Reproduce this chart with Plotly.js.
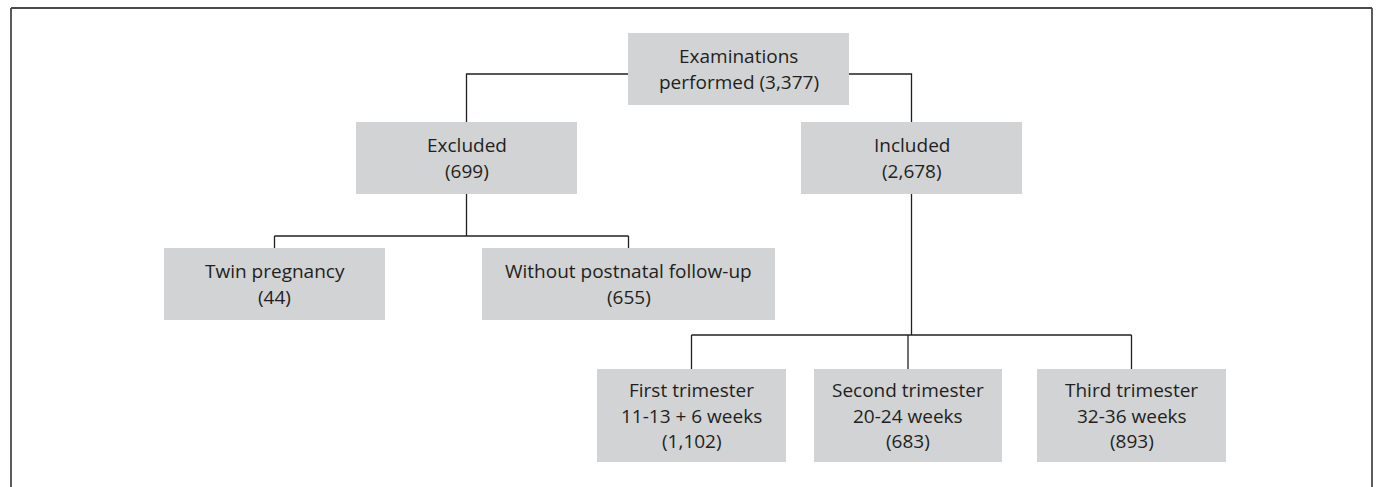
<!DOCTYPE html>
<html><head><meta charset="utf-8">
<script src="https://cdn.plot.ly/plotly-3.0.1.min.js"></script>
<style>html,body{margin:0;padding:0;background:#fff;overflow:hidden}</style>
</head><body><div id="chart" style="width:1378px;height:487px"></div>
<script>
// ---- data ----
const nodeIds = ["exams","excluded","included","twin","noFollow","first","second","third"];
const nodeLines = [
  ["Examinations","performed"],
  ["Excluded"],
  ["Included"],
  ["Twin pregnancy"],
  ["Without postnatal follow-up"],
  ["First trimester","11-13 + 6 weeks"],
  ["Second trimester","20-24 weeks"],
  ["Third trimester","32-36 weeks"]
];
const nodeCounts = [3377, 699, 2678, 44, 655, 1102, 683, 893];
const nodeParents = [null,"exams","exams","excluded","excluded","included","included","included"];

// ---- layout geometry (pixels in a 1378x487 frame) ----
const geom = {
  exams:    {x0:628, x1:849,  y0:33,  y1:105, inline:true},
  excluded: {x0:356, x1:577,  y0:122, y1:194},
  included: {x0:801, x1:1022, y0:122, y1:194},
  twin:     {x0:164, x1:385,  y0:248, y1:320},
  noFollow: {x0:482, x1:775,  y0:248, y1:320},
  first:    {x0:597, x1:786,  y0:369, y1:462},
  second:   {x0:814, x1:1002, y0:369, y1:462},
  third:    {x0:1037,x1:1226, y0:369, y1:462}
};
const connector = {
  exams:    {style:"side", y:74},
  excluded: {style:"bus",  y:236},
  included: {style:"bus",  y:335}
};
const LINE_H = 25.5;
const FONT = {family:"Open Sans, Noto Sans, sans-serif", size:19, color:"#231f20"};
const BOX_FILL = "#d1d3d4";
const LINE_COLOR = "#231f20";

function fmt(n){ return n.toLocaleString("en-US"); }

const shapes = [];
const annotations = [];
const cx = id => (geom[id].x0 + geom[id].x1) / 2;

// frame
const frame = {color:"#4a4a4a", width:1.8};
shapes.push({type:"line", xref:"x", yref:"y", x0:11, x1:1372, y0:8, y1:8, line:frame});
shapes.push({type:"line", xref:"x", yref:"y", x0:11, x1:11, y0:8, y1:490, line:frame});
shapes.push({type:"line", xref:"x", yref:"y", x0:1372, x1:1372, y0:8, y1:490, line:frame});

// connectors
const lineStyle = {color:LINE_COLOR, width:1.3};
Object.keys(connector).forEach(pid => {
  const kids = nodeIds.filter((id,i) => nodeParents[i] === pid);
  const c = connector[pid], p = geom[pid];
  if (c.style === "side") {
    kids.forEach(k => {
      const kx = cx(k);
      const edge = kx < cx(pid) ? p.x0 : p.x1;
      shapes.push({type:"path", xref:"x", yref:"y", path:`M${edge},${c.y} L${kx},${c.y} L${kx},${geom[k].y0}`, line:lineStyle});
    });
  } else {
    const xs = kids.map(cx);
    shapes.push({type:"line", xref:"x", yref:"y", x0:cx(pid), x1:cx(pid), y0:p.y1, y1:c.y, line:lineStyle});
    shapes.push({type:"line", xref:"x", yref:"y", x0:Math.min(...xs), x1:Math.max(...xs), y0:c.y, y1:c.y, line:lineStyle});
    kids.forEach(k => {
      shapes.push({type:"line", xref:"x", yref:"y", x0:cx(k), x1:cx(k), y0:c.y, y1:geom[k].y0, line:lineStyle});
    });
  }
});

// boxes and text
nodeIds.forEach((id, i) => {
  const g = geom[id];
  shapes.push({type:"rect", xref:"x", yref:"y", x0:g.x0, x1:g.x1, y0:g.y0, y1:g.y1, fillcolor:BOX_FILL, line:{width:0}, layer:"above"});
  let lines = nodeLines[i].slice();
  if (g.inline) lines[lines.length-1] += " (" + fmt(nodeCounts[i]) + ")";
  else lines.push("(" + fmt(nodeCounts[i]) + ")");
  const cy = (g.y0 + g.y1) / 2;
  const n = lines.length;
  lines.forEach((t, j) => {
    annotations.push({xref:"x", yref:"y", x:cx(id), y:cy + (j - (n-1)/2) * LINE_H,
      text:t, showarrow:false, xanchor:"center", yanchor:"middle", font:FONT});
  });
});

const layout = {
  width:1378, height:487,
  margin:{l:0, r:0, t:0, b:0},
  paper_bgcolor:"#ffffff", plot_bgcolor:"#ffffff",
  xaxis:{range:[0,1378], visible:false, fixedrange:true},
  yaxis:{range:[487,0], visible:false, fixedrange:true},
  shapes, annotations, showlegend:false
};
Plotly.newPlot("chart", [{x:[], y:[], type:"scatter"}], layout, {displayModeBar:false, staticPlot:true});
</script></body></html>
